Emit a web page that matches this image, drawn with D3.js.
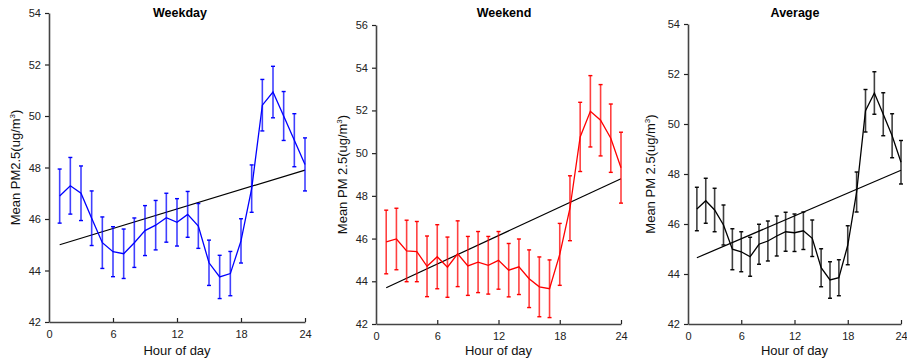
<!DOCTYPE html>
<html><head><meta charset="utf-8">
<script src="https://cdn.jsdelivr.net/npm/d3@7/dist/d3.min.js"></script>
<style>body{margin:0;background:#fff}svg{display:block}text{font-family:"Liberation Sans",Arial,sans-serif}</style>
</head><body>
<svg id="c" width="907" height="363"></svg>
<script>
const hours = d3.range(1, 25);
const xTicks = [0, 6, 12, 18, 24];

const weekdayMean = [46.89,47.29,47.0,46.03,45.08,44.73,44.65,45.08,45.55,45.76,46.05,45.87,46.18,45.73,44.3,43.75,43.88,45.15,47.18,50.42,50.93,50.0,49.06,48.12];
const weekdayErr  = [1.05,1.1,1.06,1.06,1.0,0.97,0.96,0.96,0.97,0.96,0.95,0.92,0.89,0.87,0.88,0.84,0.86,0.86,0.92,1.0,1.0,0.95,1.03,1.03];
const weekdayTrend = [45.0, 47.9];

const weekendMean = [45.84,45.98,45.42,45.39,44.7,45.15,44.66,45.29,44.72,44.9,44.75,44.98,44.52,44.68,44.12,43.74,43.65,45.26,47.42,50.76,51.96,51.54,50.7,49.32];
const weekendErr  = [1.49,1.44,1.44,1.41,1.42,1.5,1.41,1.54,1.38,1.43,1.35,1.35,1.25,1.3,1.35,1.4,1.35,1.45,1.52,1.62,1.67,1.67,1.6,1.66];
const weekendTrend = [43.7, 48.8];

const averageMean = [46.6,46.93,46.56,45.96,44.99,44.89,44.69,45.19,45.32,45.52,45.69,45.65,45.73,45.43,44.25,43.76,43.85,45.15,47.28,50.53,51.24,50.39,49.53,48.47];
const averageErr  = [0.87,0.9,0.87,0.8,0.82,0.8,0.78,0.8,0.8,0.8,0.78,0.75,0.75,0.73,0.76,0.73,0.72,0.78,0.8,0.85,0.85,0.86,0.88,0.87];
const averageTrend = [44.65, 48.15];

const panels = [
  {title:"Weekday", ylabel:"Mean PM2.5(ug/m", mean:weekdayMean, err:weekdayErr, trend:weekdayTrend, color:"#0000ff",
   yDomain:[42,54], yTicks:[42,44,46,48,50,52,54], x0:49, x1:305, yTop:13, yBot:322, labX:15, titleX:180},
  {title:"Weekend", ylabel:"Mean PM 2.5(ug/m", mean:weekendMean, err:weekendErr, trend:weekendTrend, color:"#ff0000",
   yDomain:[42,56], yTicks:[42,44,46,48,50,52,54,56], x0:376, x1:621, yTop:25, yBot:324, labX:342, titleX:504},
  {title:"Average", ylabel:"Mean PM 2.5(ug/m", mean:averageMean, err:averageErr, trend:averageTrend, color:"#000000",
   yDomain:[42,54], yTicks:[42,44,46,48,50,52,54], x0:688, x1:901, yTop:24, yBot:324, labX:650, titleX:795}
];

const svg = d3.select("#c");

panels.forEach(p => {
  const x = d3.scaleLinear().domain([0,24]).range([p.x0, p.x1]);
  const y = d3.scaleLinear().domain(p.yDomain).range([p.yBot, p.yTop]);
  const g = svg.append("g");

  // axes
  const ax = g.append("g").attr("transform", `translate(0,${p.yBot})`)
    .call(d3.axisBottom(x).tickValues(xTicks).tickSizeInner(-4).tickSizeOuter(0).tickPadding(8));
  const ay = g.append("g").attr("transform", `translate(${p.x0},0)`)
    .call(d3.axisLeft(y).tickValues(p.yTicks).tickSizeInner(4).tickSizeOuter(0).tickPadding(4));
  [ax, ay].forEach(a => {
    a.select(".domain").attr("stroke", "#444").attr("stroke-width", 1.6);
    a.selectAll(".tick line").attr("stroke", "#222").attr("stroke-width", 1.2);
    a.selectAll(".tick text").attr("fill", "#222").style("font-size", "11px");
  });
  ax.selectAll(".tick").filter(d => d === 0).select("line").remove();

  // trend line
  g.append("line")
    .attr("x1", x(1)).attr("y1", y(p.trend[0]))
    .attr("x2", x(24)).attr("y2", y(p.trend[1]))
    .attr("stroke", "#000").attr("stroke-width", 1.2);

  // error bars
  const eb = g.append("g").attr("stroke", p.color);
  hours.forEach((h, i) => {
    const cx = x(h), lo = y(p.mean[i] - p.err[i]), hi = y(p.mean[i] + p.err[i]);
    eb.append("line").attr("x1", cx).attr("x2", cx).attr("y1", lo).attr("y2", hi)
      .attr("stroke-width", 1.6).attr("stroke-opacity", 0.75);
    [lo, hi].forEach(yy => eb.append("line").attr("x1", cx-2).attr("x2", cx+2)
      .attr("y1", yy).attr("y2", yy).attr("stroke-width", 1.4));
  });

  // mean line
  g.append("path").datum(hours.map((h,i)=>[h, p.mean[i]]))
    .attr("fill", "none").attr("stroke", p.color).attr("stroke-width", 1.3)
    .attr("d", d3.line().x(d=>x(d[0])).y(d=>y(d[1])));

  // title
  g.append("text").attr("x", p.titleX).attr("y", 17).attr("text-anchor", "middle")
    .style("font-size", "12.5px").style("font-weight", "bold").text(p.title);

  // x label
  g.append("text").attr("x", (p.x0+p.x1)/2).attr("y", 355).attr("text-anchor", "middle")
    .style("font-size", "13px").attr("fill", "#111").text("Hour of day");

  // y label
  const yl = g.append("text").attr("transform", `translate(${p.labX+5},${(p.yTop+p.yBot)/2}) rotate(-90)`)
    .attr("text-anchor", "middle").style("font-size", "13px").attr("fill", "#111");
  yl.append("tspan").text(p.ylabel);
  yl.append("tspan").attr("dy", -5).style("font-size", "8px").text("3");
  yl.append("tspan").attr("dy", 5).text(")");
});
</script>
</body></html>
